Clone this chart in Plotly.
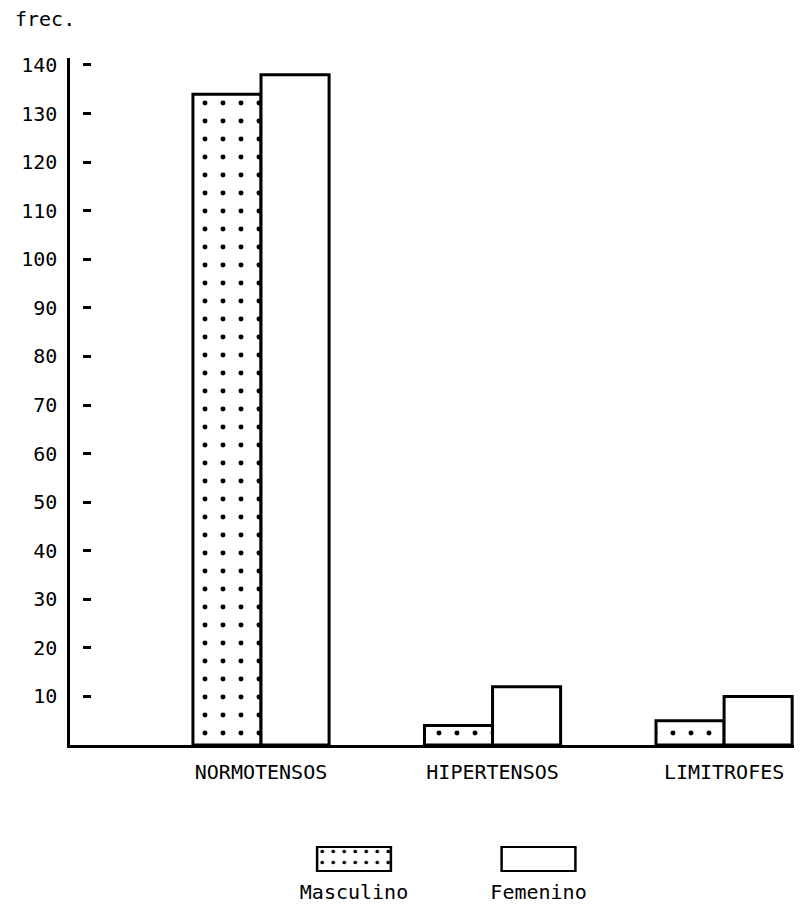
import plotly.graph_objects as go

categories = ["NORMOTENSOS", "HIPERTENSOS", "LIMITROFES"]
masculino = [134, 4, 5]
femenino = [138, 12, 10]
y_ticks = [10, 20, 30, 40, 50, 60, 70, 80, 90, 100, 110, 120, 130, 140]
legend_labels = ["Masculino", "Femenino"]
legend_swatch = [1, 1]

FONT = "DejaVu Sans Mono"
tick_font = dict(family=FONT, size=20, color="black")

# the page body adds an 8px margin, so the figure is kept inside the window
W, H = 786, 898
L, R, T, B = 62, 0, 50, 34
PW = W - L - R

fig = go.Figure()
fig.add_trace(go.Bar(
    x=categories, y=masculino, name="Masculino",
    marker=dict(color="white", line=dict(color="black", width=3),
                pattern=dict(shape=".", size=18, solidity=0.06,
                             fgcolor="black", bgcolor="white", fgopacity=1)),
))
fig.add_trace(go.Bar(
    x=categories, y=femenino, name="Femenino",
    marker=dict(color="white", line=dict(color="black", width=3)),
))
# legend swatches drawn as a small bar pair on their own axes
fig.add_trace(go.Bar(
    x=legend_labels, y=legend_swatch, xaxis="x2", yaxis="y2", width=0.4,
    marker=dict(color="white", line=dict(color="black", width=2.5),
                pattern=dict(shape=[".", ""], size=11, solidity=0.09,
                             fgcolor="black", bgcolor="white", fgopacity=1)),
))
# invisible carrier so the detached tick axis is drawn
fig.add_trace(go.Scatter(
    x=[categories[0]], y=[y_ticks[0]], yaxis="y3", mode="markers",
    marker=dict(opacity=0), hoverinfo="skip", showlegend=False,
))

fig.update_layout(
    width=W, height=H,
    margin=dict(l=L, r=R, t=T, b=B),
    paper_bgcolor="white", plot_bgcolor="white",
    showlegend=False,
    barmode="group", bargap=0.412, bargroupgap=0,
    xaxis=dict(domain=[0, 1], range=[-0.825, 2.302], anchor="y",
               showline=True, linecolor="black", linewidth=2.5,
               ticks="", showgrid=False, zeroline=False,
               tickfont=tick_font, ticklabelstandoff=7),
    yaxis=dict(domain=[0.156, 1], range=[0, 141.44], anchor="x",
               tickvals=y_ticks, showline=True, linecolor="black", linewidth=2.5,
               ticks="", showgrid=False, zeroline=False, tickfont=tick_font,
               ticklabelstandoff=6),
    yaxis3=dict(overlaying="y", matches="y", anchor="free",
                position=21 / PW, side="left",
                tickvals=y_ticks, showticklabels=False, showline=False,
                ticks="outside", ticklen=8, tickwidth=2.5, tickcolor="black",
                showgrid=False, zeroline=False),
    xaxis2=dict(domain=[(253.75 - L) / PW, (622.75 - L) / PW],
                range=[-0.5, 1.5], anchor="y2",
                showline=False, ticks="", showgrid=False, zeroline=False,
                tickfont=tick_font, ticklabelstandoff=6),
    yaxis2=dict(domain=[0, 0.032], range=[-0.03, 1.03], anchor="x2",
                visible=False),
    annotations=[dict(text="frec.", xref="paper", yref="paper",
                      x=(5 - L) / PW, y=1.0, yshift=39, xanchor="left",
                      yanchor="middle", showarrow=False,
                      font=dict(family=FONT, size=20, color="black"))],
)

fig.write_html("out.html")
